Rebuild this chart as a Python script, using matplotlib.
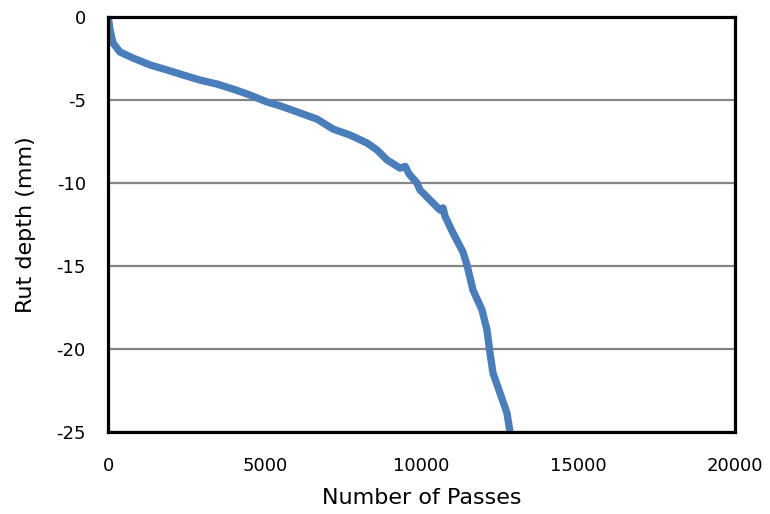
import matplotlib
matplotlib.use("Agg")
from matplotlib import pyplot as plt

plt.rcParams['axes.unicode_minus'] = False
plt.rcParams['font.family'] = 'DejaVu Sans'

# rut depth vs. wheel passes
passes = [0, 30, 64, 160, 383, 797, 1340, 1882, 2392, 2935, 3477, 3987, 4530,
          5072, 5486, 6124, 6667, 7177, 7719, 8262, 8581, 8900, 9314,
          9480, 9600, 9856, 9952, 10590, 10686, 10750, 11005, 11324, 11451,
          11643, 11930, 12089, 12185, 12281, 12504, 12727, 12823]
rut_depth = [0.0, -0.3, -0.78, -1.57, -2.11, -2.47, -2.89, -3.19, -3.49, -3.80,
             -4.04, -4.34, -4.70, -5.12, -5.35, -5.78, -6.15, -6.75,
             -7.11, -7.59, -8.01, -8.61, -9.10, -9.0, -9.45, -10.0, -10.42,
             -11.63, -11.5, -12.0, -13.01, -14.16, -14.94, -16.45, -17.65,
             -18.86, -20.24, -21.45, -22.65, -23.86, -25.0]

x_ticks = [0, 5000, 10000, 15000, 20000]
y_ticks = [0, -5, -10, -15, -20, -25]


def main():
    fig = plt.figure(figsize=(7.7, 5.14), dpi=100)
    axes = fig.add_axes([108 / 770, 82 / 514, 627 / 770, 415 / 514])

    axes.plot(passes, rut_depth, color='#4a7ebb', linewidth=5.3,
              solid_joinstyle='round', solid_capstyle='butt', zorder=3)

    axes.set_xlim(0, 20000)
    axes.set_ylim(-25, 0)
    axes.set_xticks(x_ticks)
    axes.set_yticks(y_ticks)
    axes.tick_params(length=0, labelsize=13, colors='black')
    axes.tick_params(axis='x', pad=18)
    axes.tick_params(axis='y', pad=16)

    axes.grid(axis='y', color='#868686', linewidth=1.6)
    axes.set_axisbelow(True)
    for spine in axes.spines.values():
        spine.set_color('black')
        spine.set_linewidth(2.3)
        spine.set_zorder(4)

    axes.set_xlabel('Number of Passes', fontsize=16, va='center')
    axes.set_ylabel('Rut depth (mm)', fontsize=16, va='center')
    axes.xaxis.set_label_coords(0.5, -0.159)
    axes.yaxis.set_label_coords(-0.131, 0.5)

    fig.savefig('out.png', dpi=100)


if __name__ == '__main__':
    main()
